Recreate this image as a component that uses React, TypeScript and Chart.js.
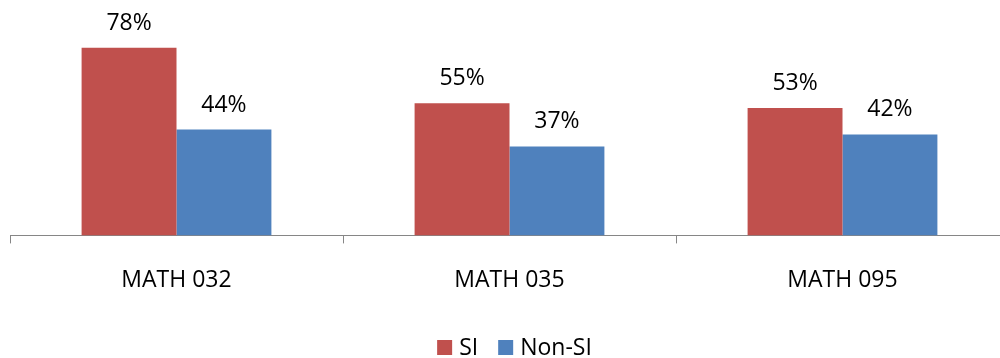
import React, { useEffect, useRef } from "react";
import { Chart, registerables } from "chart.js";

Chart.register(...registerables);

const categories = ["MATH 032", "MATH 035", "MATH 095"];
const siValues = [0.78, 0.55, 0.53];
const nonSiValues = [0.44, 0.37, 0.42];
const seriesNames = ["SI", "Non-SI"];
const seriesColors = ["#C0504D", "#4F81BD"];

const FONT_FAMILY = '"Open Sans", sans-serif';
const FONT_SIZE = 23;

const dataLabelsPlugin = {
  id: "dataLabels",
  afterDatasetsDraw(chart: any) {
    const ctx = chart.ctx;
    ctx.save();
    ctx.font = `${FONT_SIZE}px ${FONT_FAMILY}`;
    ctx.fillStyle = "#000000";
    ctx.textAlign = "center";
    ctx.textBaseline = "alphabetic";
    chart.data.datasets.forEach((ds: any, i: number) => {
      const meta = chart.getDatasetMeta(i);
      meta.data.forEach((bar: any, j: number) => {
        const v = ds.data[j];
        ctx.fillText(Math.round(v * 100) + "%", bar.x, bar.y - 18);
      });
    });
    ctx.restore();
  },
};

const legendPlugin = {
  id: "customLegend",
  afterDraw(chart: any) {
    const ctx = chart.ctx;
    ctx.save();
    ctx.font = `${FONT_SIZE}px ${FONT_FAMILY}`;
    ctx.textAlign = "left";
    ctx.textBaseline = "alphabetic";
    const box = 15;
    const gapText = 7;
    const gapItem = 20;
    const items = chart.data.datasets.map((ds: any) => ({
      label: ds.label,
      color: ds.backgroundColor,
      w: ctx.measureText(ds.label).width,
    }));
    const total =
      items.reduce((s: number, it: any) => s + box + gapText + it.w, 0) +
      gapItem * (items.length - 1);
    let x = chart.width / 2 - total / 2;
    const baseline = chart.height - 3;
    items.forEach((it: any) => {
      ctx.fillStyle = it.color;
      ctx.fillRect(x, baseline - box, box, box);
      ctx.fillStyle = "#000000";
      ctx.fillText(it.label, x + box + gapText, baseline);
      x += box + gapText + it.w + gapItem;
    });
    ctx.restore();
  },
};

export default function App() {
  const canvasRef = useRef<HTMLCanvasElement | null>(null);

  useEffect(() => {
    if (!canvasRef.current) return;
    const chart = new Chart(canvasRef.current, {
      type: "bar",
      data: {
        labels: categories,
        datasets: [
          {
            label: seriesNames[0],
            data: siValues,
            backgroundColor: seriesColors[0],
            borderWidth: 0,
            categoryPercentage: 0.57,
            barPercentage: 1.0,
          },
          {
            label: seriesNames[1],
            data: nonSiValues,
            backgroundColor: seriesColors[1],
            borderWidth: 0,
            categoryPercentage: 0.57,
            barPercentage: 1.0,
          },
        ],
      },
      options: {
        responsive: false,
        animation: false,
        devicePixelRatio: 1,
        layout: { padding: { left: 10, right: 20, top: 19, bottom: 41 } },
        plugins: {
          legend: { display: false },
          tooltip: { enabled: false },
        },
        scales: {
          y: { display: false, min: 0, max: 0.9 },
          x: {
            offset: true,
            border: { display: true, color: "#868686", width: 1 },
            grid: {
              offset: true,
              drawOnChartArea: false,
              drawTicks: true,
              tickLength: 8,
              color: "#868686",
            },
            ticks: {
              color: "#000000",
              padding: 23,
              font: { family: FONT_FAMILY, size: FONT_SIZE },
            },
          },
        },
      },
      plugins: [dataLabelsPlugin, legendPlugin],
    });
    return () => chart.destroy();
  }, []);

  return (
    <div
      style={{
        position: "fixed",
        left: 0,
        top: 0,
        width: 1000,
        height: 358,
        overflow: "hidden",
        background: "#ffffff",
      }}
    >
      <canvas
        ref={canvasRef}
        width={1029}
        height={358}
        style={{ display: "block", width: 1029, height: 358 }}
      />
    </div>
  );
}
